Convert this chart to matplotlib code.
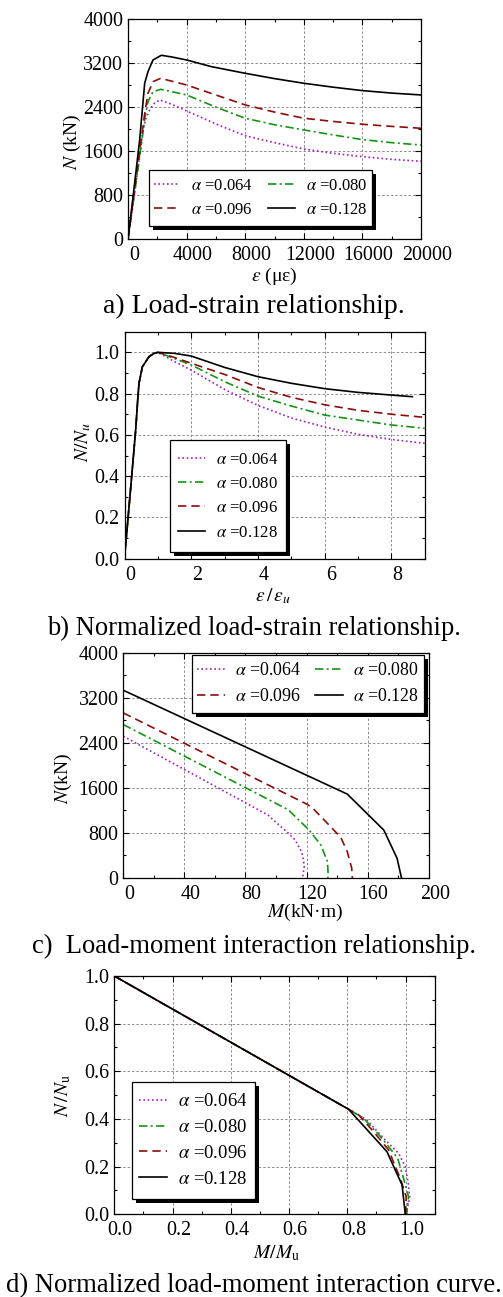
import matplotlib
matplotlib.use('Agg')
import matplotlib.pyplot as plt
import matplotlib.transforms as mtransforms
from matplotlib.patches import Rectangle
from matplotlib.ticker import MultipleLocator, FormatStrFormatter

plt.rcParams['font.family'] = ['Liberation Serif', 'DejaVu Serif']
plt.rcParams['mathtext.fontset'] = 'stix'

labels = ['$\\alpha$ =0.064', '$\\alpha$ =0.080', '$\\alpha$ =0.096', '$\\alpha$ =0.128']
colors = ['#a020b8', '#149414', '#8c0c0c', 'black']
styles = [(0, (1, 1.6)), (0, (5, 2, 1.2, 2)), (0, (5, 3)), '-']

# a) load-strain (microstrain, kN)
a_eps_064 = [0, 530, 1024, 1200, 1480, 1800, 2162, 3000, 4000, 6000, 8000, 10000, 12000, 14000, 16000, 18000, 20000]
a_N_064 = [0, 1000, 1985, 2180, 2349, 2470, 2530, 2450, 2330, 2094, 1880, 1755, 1640, 1561, 1500, 1452, 1416]
a_eps_080 = [0, 480, 956, 1150, 1365, 1706, 2230, 3000, 4000, 6000, 8000, 10000, 12000, 14000, 16000, 18000, 20000]
a_N_080 = [0, 900, 1805, 2200, 2500, 2680, 2723, 2680, 2621, 2400, 2198, 2080, 1986, 1895, 1810, 1755, 1712]
a_eps_096 = [0, 450, 900, 1150, 1365, 1706, 2230, 3000, 4000, 6000, 8000, 10000, 12000, 14000, 16000, 18000, 20000]
a_N_096 = [0, 900, 1805, 2300, 2651, 2862, 2923, 2870, 2802, 2620, 2440, 2310, 2198, 2140, 2089, 2050, 2016]
a_eps_128 = [0, 400, 796, 1138, 1365, 1706, 2275, 3000, 4000, 5690, 8000, 10000, 12000, 14000, 16000, 18000, 20000]
a_N_128 = [0, 900, 1805, 2832, 3044, 3256, 3341, 3310, 3256, 3135, 3014, 2918, 2833, 2762, 2700, 2655, 2621]

# b) normalized load-strain
b_x_064 = [0, 0.2, 0.335, 0.4, 0.435, 0.535, 0.735, 0.885, 1.0, 1.5, 2, 3, 4, 5, 6, 7, 8, 9]
b_y_064 = [0, 0.37, 0.624, 0.78, 0.85, 0.93, 0.979, 0.995, 1.0, 0.955, 0.914, 0.82, 0.743, 0.682, 0.638, 0.603, 0.578, 0.559]
b_x_080 = [0, 0.2, 0.335, 0.4, 0.435, 0.535, 0.735, 0.885, 1.0, 1.5, 2, 3, 4, 5, 6, 7, 8, 9]
b_y_080 = [0, 0.37, 0.624, 0.78, 0.85, 0.93, 0.979, 0.995, 1.0, 0.97, 0.939, 0.858, 0.788, 0.74, 0.696, 0.672, 0.648, 0.632]
b_x_096 = [0, 0.2, 0.335, 0.4, 0.435, 0.535, 0.735, 0.885, 1.0, 1.5, 2, 3, 4, 5, 6, 7, 8, 9]
b_y_096 = [0, 0.37, 0.624, 0.78, 0.85, 0.93, 0.979, 0.995, 1.0, 0.975, 0.947, 0.893, 0.83, 0.782, 0.746, 0.719, 0.700, 0.685]
b_x_128 = [0, 0.2, 0.335, 0.4, 0.435, 0.535, 0.735, 0.885, 1.0, 1.5, 2, 3, 4, 5, 6, 7, 8, 8.63]
b_y_128 = [0, 0.37, 0.624, 0.78, 0.85, 0.93, 0.979, 0.995, 1.0, 0.995, 0.982, 0.927, 0.882, 0.85, 0.824, 0.806, 0.793, 0.785]

# c) load-moment (kN.m, kN)
c_M_064 = [0, 94.6, 103.3, 108.2, 112.6, 117.0, 118.0, 118.5, 117.8, 117.5]
c_N_064 = [2515, 1119, 909, 792, 673, 448, 319, 200, 83, 0]
c_M_080 = [0, 108, 121.7, 129.4, 133.7, 134.1, 134.0]
c_N_080 = [2722, 1211, 850, 585, 289, 83, 0]
c_M_096 = [0, 120.7, 124, 133.7, 142.4, 146.7, 149.6, 150]
c_N_096 = [2928, 1303, 1240, 969, 721, 466, 172, 0]
c_M_128 = [0, 146.7, 170.6, 179.3, 182.2]
c_N_128 = [3330, 1488, 850, 349, 0]

# d) normalized load-moment
d_x_064 = [0, 0.804, 0.867, 0.93, 0.976, 0.999, 1.01, 1.014, 1.002]
d_y_064 = [1.0, 0.441, 0.396, 0.312, 0.256, 0.2, 0.123, 0.074, 0.0]
d_x_080 = [0, 0.804, 0.856, 0.919, 0.973, 0.993, 1.01, 1.004]
d_y_080 = [1.0, 0.441, 0.403, 0.319, 0.235, 0.151, 0.074, 0.0]
d_x_096 = [0, 0.804, 0.839, 0.89, 0.942, 0.965, 0.982, 1.002, 1.0]
d_y_096 = [1.0, 0.441, 0.417, 0.347, 0.27, 0.2, 0.151, 0.074, 0.0]
d_x_128 = [0, 0.804, 0.936, 0.988, 0.999]
d_y_128 = [1.0, 0.441, 0.263, 0.123, 0.0]

W, H = 503, 1297
fig = plt.figure(figsize=(W/100, H/100), dpi=100)

def box(l, r, t, b):
    return [l/W, 1-b/H, (r-l)/W, (b-t)/H]

def style(ax, xmaj, xmin, ymaj, ymin):
    ax.xaxis.set_major_locator(MultipleLocator(xmaj))
    ax.xaxis.set_minor_locator(MultipleLocator(xmin))
    ax.yaxis.set_major_locator(MultipleLocator(ymaj))
    ax.yaxis.set_minor_locator(MultipleLocator(ymin))
    ax.tick_params(which='both', direction='in', top=True, right=True, labelsize=14.4, width=0.8)
    ax.tick_params(which='major', length=4)
    ax.tick_params(which='minor', length=2.5)
    ax.tick_params(axis='x', pad=5)
    ax.tick_params(axis='y', pad=3.5)
    ax.grid(True, which='major', color='#8c8c8c', linestyle=(0, (2.5, 2)), linewidth=0.7)
    for s in ax.spines.values():
        s.set_linewidth(0.9)

def shift_xlabels(ax, fig):
    off = mtransforms.ScaledTranslation(6/100, 0, fig.dpi_scale_trans)
    for lab in ax.get_xticklabels():
        lab.set_transform(lab.get_transform() + off)

def draw(ax, xs, ys):
    hs = []
    for x, y, c, ls in zip(xs, ys, colors, styles):
        h, = ax.plot(x, y, color=c, linestyle=ls, linewidth=1.2)
        hs.append(h)
    return hs

def labels_at(ax, xl, yl, xpos, ypos, fs=14):
    ax.set_xlabel(xl, fontsize=fs, va='center')
    ax.set_ylabel(yl, fontsize=fs, va='center')
    ax.xaxis.set_label_coords(*xpos)
    ax.yaxis.set_label_coords(*ypos)

def framed_legend(ax, axbox, frame, handles, labs, **kw):
    # frame given in figure pixels (left, right, top, bottom)
    al, ar, at, ab = axbox
    l, r, t, b = frame
    x0 = (l - al) / (ar - al)
    w = (r - l) / (ar - al)
    y0 = (ab - b) / (ab - at)
    h = (b - t) / (ab - at)
    shift = mtransforms.ScaledTranslation(4/100, -4/100, fig.dpi_scale_trans)
    sh = Rectangle((x0, y0), w, h, transform=ax.transAxes + shift, facecolor='black',
                   edgecolor='black', linewidth=0, zorder=4.4, clip_on=False)
    ax.add_patch(sh)
    rect = Rectangle((x0, y0), w, h, transform=ax.transAxes, facecolor='white',
                     edgecolor='black', linewidth=0.9, zorder=4.5, clip_on=False)
    ax.add_patch(rect)
    ax.legend(handles, labs, frameon=False, loc='center', borderaxespad=0, borderpad=0,
              bbox_to_anchor=(x0, y0, w, h), **kw)

# a
A = (128, 421, 19, 239.3)
ax = fig.add_axes(box(*A))
hs = draw(ax, [a_eps_064, a_eps_080, a_eps_096, a_eps_128], [a_N_064, a_N_080, a_N_096, a_N_128])
ax.set_xlim(0, 20000)
ax.set_ylim(0, 4000)
style(ax, 4000, 2000, 800, 400)
labels_at(ax, '$\\varepsilon$ (με)', '$N$ (kN)', (0.498, -0.17), (-0.189, 0.443))
framed_legend(ax, A, (149, 372, 169.5, 226), [hs[0], hs[2], hs[1], hs[3]],
              [labels[0], labels[2], labels[1], labels[3]], ncol=2, fontsize=12,
              handlelength=1.6, handletextpad=0.65, columnspacing=0.9, labelspacing=0.48)
shift_xlabels(ax, fig)

# b
B = (124.5, 424.7, 331.7, 558.7)
ax = fig.add_axes(box(*B))
hs = draw(ax, [b_x_064, b_x_080, b_x_096, b_x_128], [b_y_064, b_y_080, b_y_096, b_y_128])
ax.set_xlim(0, 9)
ax.set_ylim(0, 1.1)
style(ax, 2, 1, 0.2, 0.1)
ax.yaxis.set_major_formatter(FormatStrFormatter('%.1f'))
labels_at(ax, '$\\varepsilon\\,/\\,\\varepsilon_u$', '$N/N_u$', (0.496, -0.167), (-0.139, 0.515))
framed_legend(ax, B, (170.3, 285.7, 440.3, 552), hs, labels, ncol=1, fontsize=12.1,
              handlelength=1.6, handletextpad=0.65, labelspacing=0.5)
shift_xlabels(ax, fig)

# c
C = (123.3, 428.7, 652.5, 878)
ax = fig.add_axes(box(*C))
hs = draw(ax, [c_M_064, c_M_080, c_M_096, c_M_128], [c_N_064, c_N_080, c_N_096, c_N_128])
ax.set_xlim(0, 200)
ax.set_ylim(0, 4000)
style(ax, 40, 20, 800, 400)
labels_at(ax, '$M$(kN·m)', '$N$(kN)', (0.595, -0.152), (-0.196, 0.443))
framed_legend(ax, C, (191.7, 424, 655, 712.7), [hs[0], hs[2], hs[1], hs[3]],
              [labels[0], labels[2], labels[1], labels[3]], ncol=2, fontsize=12.9,
              handlelength=1.57, handletextpad=0.55, columnspacing=0.74, labelspacing=0.5)
shift_xlabels(ax, fig)

# d
D = (114.3, 434.7, 976, 1214.3)
ax = fig.add_axes(box(*D))
hs = draw(ax, [d_x_064, d_x_080, d_x_096, d_x_128], [d_y_064, d_y_080, d_y_096, d_y_128])
ax.set_xlim(0, 1.1)
ax.set_ylim(0, 1.0)
style(ax, 0.2, 0.1, 0.2, 0.1)
ax.xaxis.set_major_formatter(FormatStrFormatter('%.1f'))
ax.yaxis.set_major_formatter(FormatStrFormatter('%.1f'))
labels_at(ax, '$M/M_\\mathrm{u}$', '$N\\,/N_\\mathrm{u}$', (0.507, -0.162), (-0.159, 0.50))
framed_legend(ax, D, (131.7, 255.3, 1081.7, 1199.3), hs, labels, ncol=1, fontsize=13.5,
              handlelength=1.47, handletextpad=0.6, labelspacing=0.46)
shift_xlabels(ax, fig)

caps = ['a) Load-strain relationship.', 'b) Normalized load-strain relationship.',
        'c)  Load-moment interaction relationship.', 'd) Normalized load-moment interaction curve.']
cap_y = [313, 635, 953.3, 1291.7]
cap_fs = [20, 19.15, 19.15, 19.15]
for t, yy, fs in zip(caps, cap_y, cap_fs):
    fig.text(0.505, 1 - yy/H, t, ha='center', va='baseline', fontsize=fs)

fig.savefig('out.png', dpi=100)
